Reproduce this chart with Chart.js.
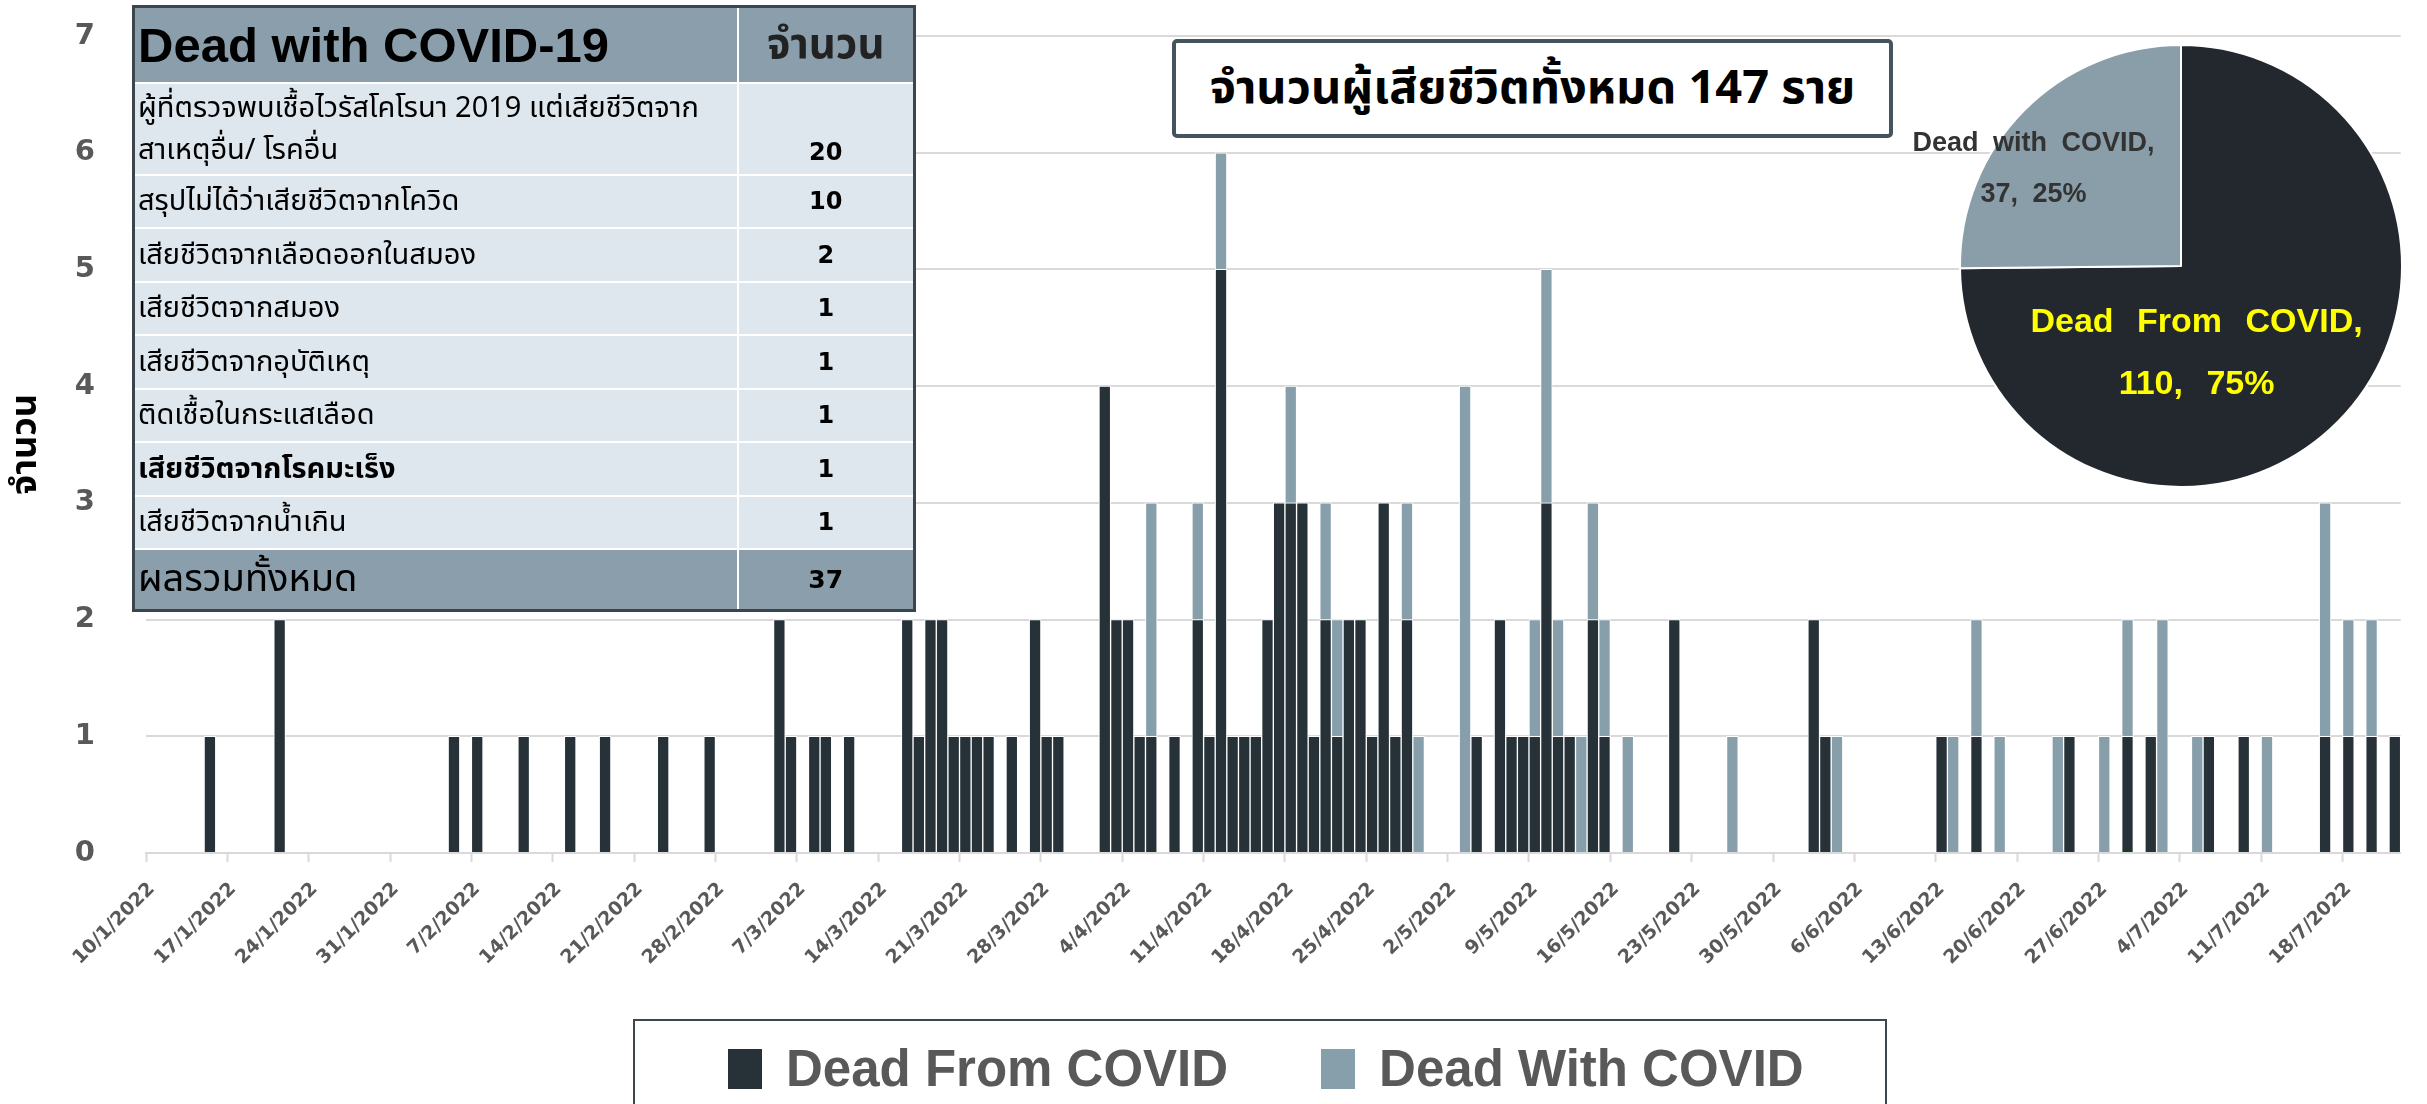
<!DOCTYPE html>
<html>
<head>
<meta charset="utf-8">
<script src="https://cdn.jsdelivr.net/npm/chart.js@4.4.1/dist/chart.umd.min.js"></script>
<style>
  html, body { margin:0; padding:0; background:#ffffff; width:2427px; height:1104px; overflow:hidden; }
  #wrap { position:relative; width:2427px; height:1104px; }
  #main { position:absolute; left:0; top:0; }
  #pie { position:absolute; left:1860px; top:0; }
  #tbl { position:absolute; left:132px; top:5px; width:781px; border-collapse:collapse; border:3px solid #3b464c; table-layout:fixed; }
  #tbl td { border:2px solid #ffffff; padding:0 3px; color:#000; overflow:hidden; }
  #tbl tr.hd td, #tbl tr.ft td { background:#8a9fab; }
  #tbl tr.bd td { background:#dfe7ee; }
  #tbl td.c2 { text-align:center; font-weight:bold; }
  #title { position:absolute; left:1172px; top:39px; width:721px; height:99px; box-sizing:border-box;
           border:4px solid #44545c; border-radius:5px; background:#fff; display:flex; align-items:center; justify-content:center;
           font-weight:bold; font-size:47px; color:#000; white-space:nowrap; }
  #legend { position:absolute; left:633px; top:1019px; width:1254px; height:120px; box-sizing:border-box;
            border:2px solid #3c474d; display:flex; align-items:flex-start; padding-top:28px; padding-left:93px; }
  #legend .li { display:flex; align-items:center; height:40px; margin-right:93px; }
  #legend .sw { display:inline-block; width:34px; height:40px; margin-right:24px; }
  #legend .tx { font-family:"Liberation Sans", Arial, sans-serif; font-weight:bold; font-size:51px; line-height:40px; color:#595959; white-space:nowrap; }
</style>
</head>
<body>
<div id="wrap">
  <canvas id="main" width="2427" height="1104"></canvas>
  <table id="tbl"><colgroup><col style="width:604px"><col style="width:177px"></colgroup></table>
  <div id="title"></div>
  <canvas id="pie" width="567" height="540"></canvas>
  <div id="legend"></div>
</div>
<script>
// ---------------- DATA ----------------
const startDay = { d:10, m:1, y:2022 };   // first category (10/1/2022), one category per day
const dayCount = 194;                    // 10/1/2022 .. 22/7/2022

// deaths per day, written one week (7 days) per row, starting 10/1/2022
const deadFromCovid = [
  0,0,0,0,0,1,0,
  0,0,0,0,2,0,0,
  0,0,0,0,0,0,0,
  0,0,0,0,0,1,0,
  1,0,0,0,1,0,0,
  0,1,0,0,1,0,0,
  0,0,1,0,0,0,1,
  0,0,0,0,0,2,1,
  0,1,1,0,1,0,0,
  0,0,2,1,2,2,1,
  1,1,1,0,1,0,2,
  1,1,0,0,0,4,2,
  2,1,1,0,1,0,2,
  1,5,1,1,1,2,3,
  3,3,1,2,1,2,2,
  1,3,1,2,0,0,0,
  0,0,1,0,2,1,1,
  1,3,1,1,0,2,1,
  0,0,0,0,0,2,0,
  0,0,0,0,0,0,0,
  0,0,0,2,1,0,0,
  0,0,0,0,0,0,0,
  1,0,0,1,0,0,0,
  0,0,0,0,1,0,0,
  0,0,1,0,1,0,0,
  0,0,1,0,0,1,0,
  0,0,0,0,0,1,0,
  1,0,1,0,1
];
const deadWithCovid = [
  0,0,0,0,0,0,0,
  0,0,0,0,0,0,0,
  0,0,0,0,0,0,0,
  0,0,0,0,0,0,0,
  0,0,0,0,0,0,0,
  0,0,0,0,0,0,0,
  0,0,0,0,0,0,0,
  0,0,0,0,0,0,0,
  0,0,0,0,0,0,0,
  0,0,0,0,0,0,0,
  0,0,0,0,0,0,0,
  0,0,0,0,0,0,0,
  0,0,2,0,0,0,1,
  0,1,0,0,0,0,0,
  1,0,0,1,1,0,0,
  0,0,0,1,1,0,0,
  0,4,0,0,0,0,0,
  1,2,1,0,1,1,1,
  0,1,0,0,0,0,0,
  0,0,0,1,0,0,0,
  0,0,0,0,0,1,0,
  0,0,0,0,0,0,0,
  0,1,0,1,0,1,0,
  0,0,0,1,0,0,0,
  1,0,1,0,0,2,0,
  0,1,0,0,0,0,0,
  1,0,0,0,0,2,0,
  1,0,1,0,0
];
const seriesNames = ['Dead From COVID', 'Dead With COVID'];
const tickLabels = ['10/1/2022','17/1/2022','24/1/2022','31/1/2022','7/2/2022','14/2/2022','21/2/2022','28/2/2022',
  '7/3/2022','14/3/2022','21/3/2022','28/3/2022','4/4/2022','11/4/2022','18/4/2022','25/4/2022','2/5/2022',
  '9/5/2022','16/5/2022','23/5/2022','30/5/2022','6/6/2022','13/6/2022','20/6/2022','27/6/2022','4/7/2022',
  '11/7/2022','18/7/2022'];
const yTicks = [0,1,2,3,4,5,6,7];

const pieLabels = ['Dead From COVID', 'Dead with COVID'];
const pieValues = [110, 37];

const tableHeader = ['Dead with COVID-19', 'จำนวน'];
const tableCauses = ['ผู้ที่ตรวจพบเชื้อไวรัสโคโรนา 2019 แต่เสียชีวิตจาก\nสาเหตุอื่น/ โรคอื่น',
  'สรุปไม่ได้ว่าเสียชีวิตจากโควิด','เสียชีวิตจากเลือดออกในสมอง','เสียชีวิตจากสมอง','เสียชีวิตจากอุบัติเหตุ',
  'ติดเชื้อในกระแสเลือด','เสียชีวิตจากโรคมะเร็ง','เสียชีวิตจากน้ำเกิน'];
const tableCounts = [20, 10, 2, 1, 1, 1, 1, 1];
const tableTotalLabel = 'ผลรวมทั้งหมด';
const titleText = 'จำนวนผู้เสียชีวิตทั้งหมด 147 ราย';
const yTitle = 'จำนวน';

// ---------------- STYLE ----------------
const LATIN = '"Liberation Sans", Arial, Helvetica, sans-serif';
const AXISF = '"DejaVu Sans", Verdana, sans-serif';
const THAI = '"Noto Sans Thai","Noto Sans Thai UI","Leelawadee UI",Tahoma,Loma,Garuda,Umpush,Waree,Sawasdee,"Tlwg Typo",Norasi,Kinnari,"DejaVu Sans",sans-serif';
const colFrom = '#263238';
const colWith = '#879eab';
const gridCol = '#d9d9d9';

// categories: one per day
const categories = [];
for (let i = 0; i < dayCount; i++) {
  const dt = new Date(startDay.y, startDay.m - 1, startDay.d + i);
  categories.push(dt.getDate() + '/' + (dt.getMonth() + 1) + '/' + dt.getFullYear());
}
const isTick = (i) => i < categories.length && tickLabels.includes(categories[i]);

const mainChart = new Chart(document.getElementById('main'), {
  type: 'bar',
  data: {
    labels: categories,
    datasets: [
      { label: seriesNames[0], data: deadFromCovid.map(v => v || null), backgroundColor: colFrom,
        borderColor: '#ffffff', borderWidth: 1, barPercentage: 1, categoryPercentage: 1 },
      { label: seriesNames[1], data: deadWithCovid.map(v => v || null), backgroundColor: colWith,
        borderColor: '#ffffff', borderWidth: 1, barPercentage: 1, categoryPercentage: 1 }
    ]
  },
  options: {
    responsive: false, animation: false, devicePixelRatio: 1,
    layout: { padding: { top: 36, right: 20, bottom: 0, left: 0 } },
    plugins: { legend: { display: false }, tooltip: { enabled: false } },
    scales: {
      x: {
        stacked: true, offset: true,
        grid: { offset: true, drawOnChartArea: false, drawTicks: true, tickLength: 9, tickWidth: 2,
                tickColor: (c) => isTick(c.index) ? gridCol : 'rgba(0,0,0,0)' },
        border: { display: true, color: gridCol, width: 2 },
        ticks: { autoSkip: false, minRotation: 45, maxRotation: 45, padding: 16, labelOffset: 0,
                 color: '#595959', font: { family: AXISF, weight: 'bold', size: 19 },
                 callback: (v, i) => isTick(i) ? categories[i] : '' },
        afterFit: (s) => { s.height = 251; }
      },
      y: {
        stacked: true, min: yTicks[0], max: yTicks[yTicks.length - 1],
        ticks: { stepSize: 1, padding: 6, color: '#595959', font: { family: AXISF, weight: 'bold', size: 29 } },
        grid: { color: gridCol, lineWidth: 2, drawTicks: true, tickLength: 45, tickColor: 'rgba(0,0,0,0)' },
        border: { display: false },
        title: { display: true, text: yTitle, color: '#000', font: { family: THAI, size: 36, weight: 'bold' },
                 padding: { top: 7, bottom: 0 } },
        afterFit: (s) => { s.width = 146; }
      }
    }
  }
});

// ---------------- PIE ----------------
const pieStyle = [
  { color: '#ffff00', size: 34, dx: -63, dy: 10, gap: 62, ws: 14 },
  { color: '#333333', size: 27, dx: -69, dy: -19, gap: 51, ws: 7 }
];
const pieLabelPlugin = {
  id: 'pieLabels',
  afterDatasetsDraw(chart) {
    const ctx = chart.ctx;
    const total = pieValues.reduce((a, b) => a + b, 0);
    chart.getDatasetMeta(0).data.forEach((arc, i) => {
      const st = pieStyle[i];
      const p = arc.getCenterPoint();
      const cx = p.x + st.dx, cy = p.y + st.dy;
      const lines = [pieLabels[i] + ',', pieValues[i] + ', ' + Math.round(pieValues[i] / total * 100) + '%'];
      ctx.save();
      ctx.font = 'bold ' + st.size + 'px ' + LATIN;
      if ('wordSpacing' in ctx) ctx.wordSpacing = st.ws + 'px';
      ctx.textAlign = 'center'; ctx.textBaseline = 'middle';
      ctx.fillStyle = st.color;
      lines.forEach((t, j) => {
        const y = cy + (j - (lines.length - 1) / 2) * st.gap;
        ctx.fillText(t, cx, y);
      });
      ctx.restore();
    });
  }
};
new Chart(document.getElementById('pie'), {
  type: 'pie',
  data: { labels: pieLabels, datasets: [{ data: pieValues, backgroundColor: ['#22282e', '#8a9ea9'],
          borderColor: '#ffffff', borderWidth: 2 }] },
  options: {
    responsive: false, animation: false, devicePixelRatio: 1,
    layout: { padding: { left: 99, right: 24, top: 44, bottom: 52 } },
    plugins: { legend: { display: false }, tooltip: { enabled: false } }
  },
  plugins: [pieLabelPlugin]
});

// ---------------- TABLE / TITLE / LEGEND ----------------
const tbl = document.getElementById('tbl');
function addRow(cls, a, b, h, opts) {
  const tr = document.createElement('tr'); tr.className = cls; tr.style.height = h + 'px';
  const td1 = document.createElement('td'); td1.className = 'c1'; td1.textContent = a;
  const td2 = document.createElement('td'); td2.className = 'c2'; td2.textContent = b;
  td1.style.whiteSpace = 'pre';
  Object.assign(td1.style, opts.s1 || {}); Object.assign(td2.style, opts.s2 || {});
  tr.append(td1, td2); tbl.append(tr);
}
addRow('hd', tableHeader[0], tableHeader[1], 76,
  { s1: { font: 'bold 49px ' + LATIN }, s2: { font: 'bold 42px ' + THAI, color: '#222' } });
tableCauses.forEach((c, i) => {
  const first = i === 0;
  addRow('bd', c, String(tableCounts[i]), first ? 92 : 53.5, {
    s1: { font: (i === 6 ? 'bold ' : '') + '29px ' + THAI, lineHeight: first ? '42px' : '32px' },
    s2: { font: 'bold 24px ' + AXISF, verticalAlign: first ? 'bottom' : 'middle', paddingBottom: first ? '8px' : '0' }
  });
});
addRow('ft', tableTotalLabel, String(tableCounts.reduce((a, b) => a + b, 0)), 61,
  { s1: { font: '38px ' + THAI }, s2: { font: 'bold 25px ' + AXISF } });

const title = document.getElementById('title');
title.textContent = titleText; title.style.fontFamily = THAI;

const legendEl = document.getElementById('legend');
mainChart.data.datasets.forEach(ds => {
  const item = document.createElement('div'); item.className = 'li';
  const sw = document.createElement('span'); sw.className = 'sw'; sw.style.background = ds.backgroundColor;
  const tx = document.createElement('span'); tx.className = 'tx'; tx.textContent = ds.label;
  item.append(sw, tx); legendEl.append(item);
});
</script>
</body>
</html>
